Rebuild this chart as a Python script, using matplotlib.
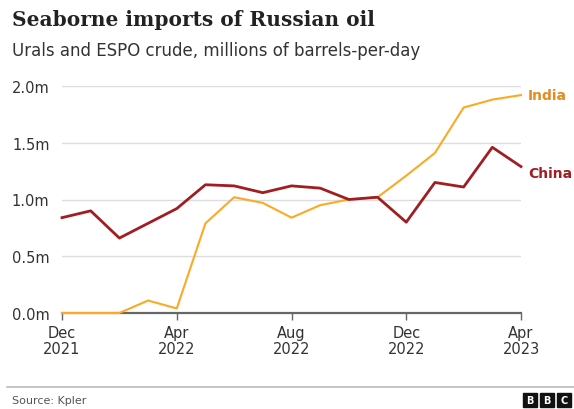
import matplotlib.pyplot as plt
from matplotlib.patches import Rectangle

# monthly values, Dec 2021 .. Apr 2023 (million barrels per day)
months = ['Dec\n2021', 'Jan', 'Feb', 'Mar', 'Apr\n2022', 'May', 'Jun', 'Jul', 'Aug\n2022',
          'Sep', 'Oct', 'Nov', 'Dec\n2022', 'Jan', 'Feb', 'Mar', 'Apr\n2023']
china = [0.84, 0.90, 0.66, 0.79, 0.92, 1.13, 1.12, 1.06, 1.12, 1.10, 1.00, 1.02,
         0.80, 1.15, 1.11, 1.46, 1.29]
india = [0.0, 0.0, 0.0, 0.11, 0.04, 0.79, 1.02, 0.97, 0.84, 0.95, 1.00, 1.02,
         1.21, 1.41, 1.81, 1.88, 1.92]
yticks = [0.0, 0.5, 1.0, 1.5, 2.0]
ytick_labels = ['0.0m', '0.5m', '1.0m', '1.5m', '2.0m']

india_col = '#FDA924'
china_col = '#A01E22'

W, H = 574, 410
fig = plt.figure(figsize=(W / 100, H / 100), dpi=100)

# axes placed in pixel coordinates
left, right, top, bottom = 62, 521, 87, 314
ax = fig.add_axes([left / W, 1 - bottom / H, (right - left) / W, (bottom - top) / H])

x = list(range(len(months)))
ax.plot(x, india, color=india_col, lw=1.5, clip_on=False, zorder=3)
ax.plot(x, china, color=china_col, lw=2.0, clip_on=False, zorder=4)

ax.set_xlim(0, len(months) - 1)
ax.set_ylim(0, 2.0)
ax.set_yticks(yticks)
ax.set_yticklabels(ytick_labels)
tick_pos = [i for i, m in enumerate(months) if '\n' in m]
ax.set_xticks(tick_pos)
ax.set_xticklabels([months[i] for i in tick_pos])

ax.grid(axis='y', color='#dddddd', lw=1)
ax.set_axisbelow(True)
for s in ['top', 'right', 'left']:
    ax.spines[s].set_visible(False)
ax.spines['bottom'].set_color('#666666')
ax.spines['bottom'].set_linewidth(1.6)
ax.tick_params(axis='y', length=0, pad=9, labelsize=10.5, labelcolor='#333333')
ax.tick_params(axis='x', length=5, width=1, color='#666666', pad=4,
               labelsize=10.5, labelcolor='#333333')
for lbl in ax.get_xticklabels():
    lbl.set_linespacing(1.05)

ax.text(len(months) - 0.75, india[-1], 'India', color='#E58A1F', fontsize=10,
        fontweight='bold', va='center', ha='left', clip_on=False)
ax.text(len(months) - 0.75, 1.23, 'China', color=china_col, fontsize=10,
        fontweight='bold', va='center', ha='left', clip_on=False)

fig.text(12 / W, 1 - 20 / H, 'Seaborne imports of Russian oil', family='DejaVu Serif',
         fontsize=14.5, fontweight='bold', color='#222222', va='center', ha='left')
fig.text(12 / W, 1 - 51 / H, 'Urals and ESPO crude, millions of barrels-per-day',
         fontsize=12, color='#333333', va='center', ha='left')

# footer
fig.add_artist(plt.Line2D([7 / W, 1], [1 - 388 / H] * 2, color='#bbbbbb', lw=1.2))
fig.text(12 / W, 1 - 401 / H, 'Source: Kpler', fontsize=8, color='#555555',
         va='center', ha='left')
for i, ch in enumerate('BBC'):
    x0 = 523 + i * 17
    fig.add_artist(Rectangle((x0 / W, 1 - 408 / H), 14 / W, 14 / H,
                             transform=fig.transFigure, color='#111111'))
    fig.text((x0 + 7) / W, 1 - 401 / H, ch, fontsize=7, color='white',
             fontweight='bold', ha='center', va='center')

fig.savefig('out.png', dpi=100)
